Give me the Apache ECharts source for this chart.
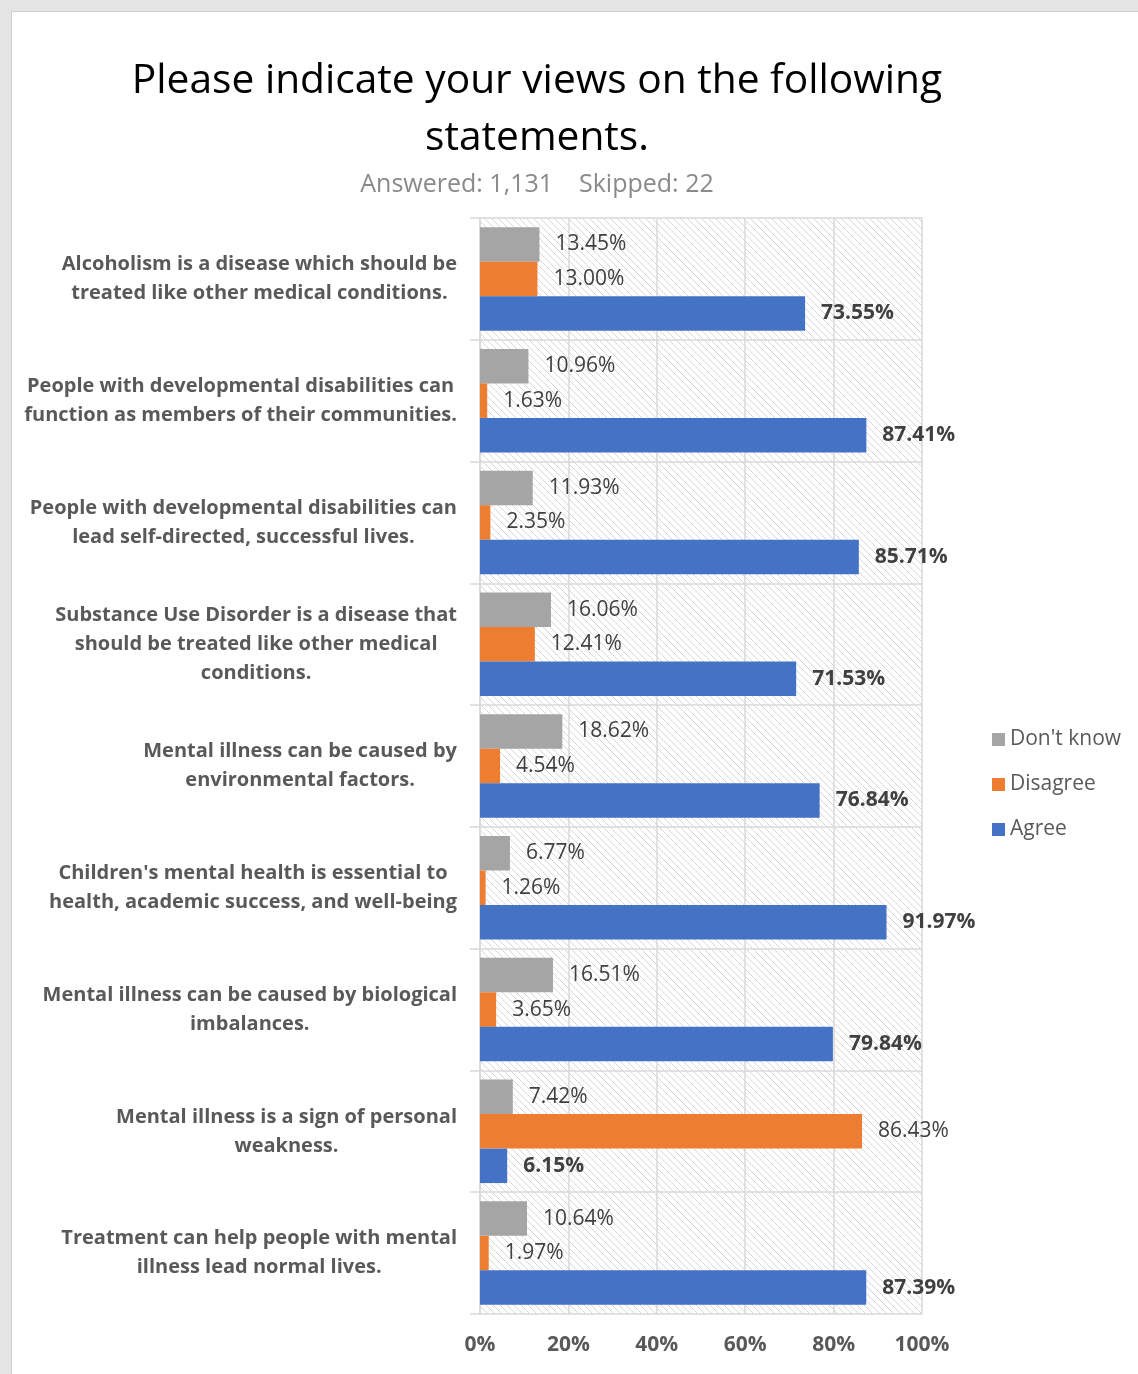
<!DOCTYPE html>
<html lang="en">
<head>
	<meta charset="UTF-8">
	<title>Views on statements</title>
	<script src="https://cdn.jsdelivr.net/npm/echarts@6/dist/echarts.min.js"></script>
	<style>
		body { margin: 0; background: #e4e4e4; }
		#card { position: absolute; left: 11px; top: 11px; right: 0; bottom: 0; background: #fff;
			border-left: 1px solid #d0d0d0; border-top: 1px solid #d0d0d0; }
		#main { position: absolute; left: 0; top: 0; width: 1138px; height: 1374px; }
	</style>
</head>
<body>
	<div id="card"></div>
	<div id="main"></div>
	<script type="text/javascript">
		var categories = [
			'Alcoholism is a disease which should be\ntreated like other medical conditions.',
			'People with developmental disabilities can\nfunction as members of their communities.',
			'People with developmental disabilities can\nlead self-directed, successful lives.',
			'Substance Use Disorder is a disease that\nshould be treated like other medical\nconditions.',
			'Mental illness can be caused by\nenvironmental factors.',
			"Children's mental health is essential to\nhealth, academic success, and well-being",
			'Mental illness can be caused by biological\nimbalances.',
			'Mental illness is a sign of personal\nweakness.',
			'Treatment can help people with mental\nillness lead normal lives.'
		];
		var dontKnow = [13.45, 10.96, 11.93, 16.06, 18.62, 6.77, 16.51, 7.42, 10.64];
		var disagree = [13.00, 1.63, 2.35, 12.41, 4.54, 1.26, 3.65, 86.43, 1.97];
		var agree = [73.55, 87.41, 85.71, 71.53, 76.84, 91.97, 79.84, 6.15, 87.39];

		var font = 'Open Sans';
		var myChart = echarts.init(document.getElementById('main'));

		// hatch pattern for plot background
		var pat = document.createElement('canvas');
		pat.width = 7; pat.height = 7;
		var ctx = pat.getContext('2d');
		ctx.strokeStyle = '#d6d6d6';
		ctx.lineWidth = 1;
		ctx.beginPath();
		ctx.moveTo(-1, -1); ctx.lineTo(8, 8);
		ctx.moveTo(-1, 6); ctx.lineTo(1, 8);
		ctx.moveTo(6, -1); ctx.lineTo(8, 1);
		ctx.stroke();

		function barLabel(bold) {
			return {
				show: true,
				position: 'right',
				distance: 16,
				fontFamily: font,
				fontSize: 21,
				fontWeight: bold ? 'bold' : 'normal',
				color: '#404040',
				formatter: function (p) { return p.value.toFixed(2) + '%'; }
			};
		}

		var option = {
			animation: false,
			title: [{
				text: 'Please indicate your views on the following\nstatements.',
				left: 532,
				top: 48,
				textAlign: 'center',
				textStyle: { fontFamily: font, fontSize: 40.7, fontWeight: 'normal', color: '#000', lineHeight: 57 }
			}, {
				text: 'Answered: 1,131    Skipped: 22',
				left: 532,
				top: 165,
				textAlign: 'center',
				textStyle: { fontFamily: font, fontSize: 25, fontWeight: 'normal', color: '#8a8a8a', lineHeight: 30 }
			}],
			legend: {
				orient: 'vertical',
				left: 987,
				top: 724,
				itemWidth: 13,
				itemHeight: 13,
				itemGap: 24,
				icon: 'rect',
				data: ["Don't know", 'Disagree', 'Agree'],
				textStyle: { fontFamily: font, fontSize: 21, color: '#595959' }
			},
			grid: {
				left: 480, top: 218, width: 442, height: 1096,
				show: true,
				borderWidth: 0,
				backgroundColor: { image: pat, repeat: 'repeat' }
			},
			xAxis: {
				type: 'value',
				min: 0, max: 100, interval: 20,
				axisLine: { show: false },
				axisTick: { show: false },
				splitLine: { show: true, lineStyle: { color: '#d9d9d9', width: 1.5 } },
				axisLabel: {
					margin: 21,
					fontFamily: font, fontSize: 21, fontWeight: 'bold', color: '#595959',
					formatter: '{value}%'
				}
			},
			yAxis: {
				type: 'category',
				inverse: true,
				data: categories,
				axisLine: { show: true, lineStyle: { color: '#d9d9d9', width: 1.5 } },
				axisTick: { show: true, length: 10, lineStyle: { color: '#d9d9d9', width: 1.5 } },
				splitLine: { show: true, lineStyle: { color: '#d9d9d9', width: 1.5 } },
				axisLabel: {
					margin: 23,
					formatter: function (v) {
						return v.split('\n').map(function (l) { return '{c|' + l + '}'; }).join('\n');
					},
					rich: {
						c: { align: 'center', fontFamily: font, fontSize: 20, fontWeight: 'bold', color: '#595959', lineHeight: 29 }
					}
				}
			},
			series: [{
				name: "Don't know",
				type: 'bar',
				data: dontKnow,
				barGap: '0%',
				barCategoryGap: '15%',
				itemStyle: { color: '#a5a5a5' },
				label: barLabel(false)
			}, {
				name: 'Disagree',
				type: 'bar',
				data: disagree,
				itemStyle: { color: '#ed7d31' },
				label: barLabel(false)
			}, {
				name: 'Agree',
				type: 'bar',
				data: agree,
				itemStyle: { color: '#4472c4' },
				label: barLabel(true)
			}]
		};

		myChart.setOption(option);
	</script>
</body>
</html>
